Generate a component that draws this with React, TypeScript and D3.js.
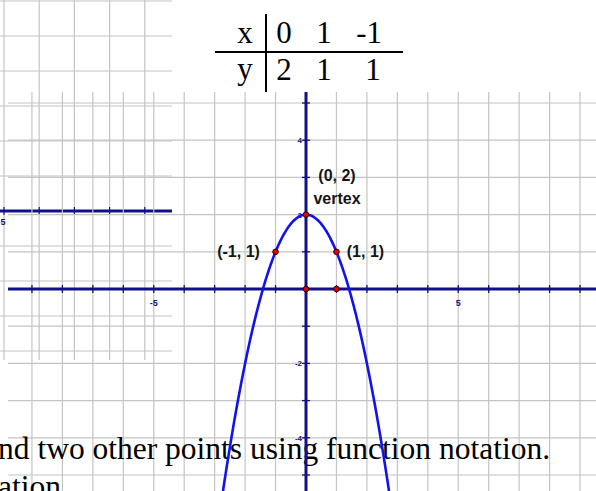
import React from "react";
import * as d3 from "d3";

// ---- data ----
const tableXs = [0, 1, -1];
const tableYs = [2, 1, 1];
const plottedPoints: [number, number][] = [[0, 2], [1, 1], [-1, 1], [0, 0], [1, 0]];
const pointLabels = [
  { text: "(0, 2)", x: 0, y: 2 },
  { text: "vertex", x: 0, y: 2 },
  { text: "(-1, 1)", x: -1, y: 1 },
  { text: "(1, 1)", x: 1, y: 1 },
];
const xTickLabels = [-5, 5];
const yTickLabels = [4, 2, -2, -4];
const mainGridX = d3.range(-9, 10);
const mainGridY = d3.range(-5, 6);
const oldGridX = d3.range(0, 5);
const oldGridY = d3.range(-4, 7);
const oldTickLabels = ["5"];
const sentence1 = "nd two other points using function notation.";
const sentence2 = "ation";

const f = (x: number) => -x * x + 2;

export default function App() {
  const W = 596, H = 491;
  const x = d3.scaleLinear().domain([0, 1]).range([306, 336.45]);
  const y = d3.scaleLinear().domain([0, 1]).range([289, 251.8]);
  // old background graph
  const ox = d3.scaleLinear().domain([0, 1]).range([4, 39.2]);
  const oy = d3.scaleLinear().domain([0, 1]).range([211, 176]);

  const gridTop = 92, gridLeft = 8;
  const navy = "#101088";
  const grid = "#c4c4c4";

  const xs = d3.range(-2.8, 2.8001, 0.02);
  const line = d3.line<number>().x((d) => x(d)).y((d) => y(f(d)));

  const labelOffsets: Record<string, [number, number]> = {
    "(0, 2)": [31, -34],
    "vertex": [31, -11],
    "(-1, 1)": [-37, 5],
    "(1, 1)": [29, 5],
  };

  return (
    <svg width={W} height={H} style={{ position: "absolute", left: 0, top: 0, background: "#fff" }}>
      <rect x={0} y={0} width={W} height={H} fill="#fff" />
      {/* old background graph */}
      <g>
        {oldGridX.map((i) => (
          <line key={"ox" + i} x1={ox(i)} x2={ox(i)} y1={0} y2={360} stroke={grid} strokeWidth={1.2} />
        ))}
        {oldGridY.map((j) => (
          <line key={"oy" + j} x1={0} x2={172} y1={oy(j)} y2={oy(j)} stroke={grid} strokeWidth={1.2} />
        ))}
        <line x1={0} x2={172} y1={oy(0)} y2={oy(0)} stroke={navy} strokeWidth={3} />
        {oldGridX.map((i) => (
          <line key={"ot" + i} x1={ox(i)} x2={ox(i)} y1={oy(0) - 4} y2={oy(0) + 4} stroke={navy} strokeWidth={1.2} />
        ))}
        {oldTickLabels.map((t) => (
          <text key={t} x={3} y={oy(0) + 14} fontFamily="Liberation Sans" fontWeight="bold" fontSize={9} fill={navy} textAnchor="middle">{t}</text>
        ))}
      </g>

      {/* main grid */}
      <g>
        {mainGridX.map((k) => (
          <line key={"gx" + k} x1={x(k)} x2={x(k)} y1={gridTop} y2={H} stroke={grid} strokeWidth={1.2} />
        ))}
        {mainGridY.map((k) => (
          <line key={"gy" + k} x1={gridLeft} x2={W} y1={y(k)} y2={y(k)} stroke={grid} strokeWidth={1.2} />
        ))}
      </g>

      {/* table */}
      <g fontFamily="Liberation Serif" fontSize={31} fill="#000">
        <line x1={215} x2={403} y1={52} y2={52} stroke="#000" strokeWidth={2} />
        <line x1={266} x2={266} y1={14} y2={92} stroke="#000" strokeWidth={2} />
        <text x={245} y={43} textAnchor="middle">x</text>
        <text x={245} y={79} textAnchor="middle">y</text>
        {tableXs.map((v, i) => (
          <text key={"tx" + i} x={[284, 324, 382][i]} y={43} textAnchor={i === 2 ? "end" : "middle"}>{String(v)}</text>
        ))}
        {tableYs.map((v, i) => (
          <text key={"ty" + i} x={[284, 324, 373][i]} y={80} textAnchor="middle">{String(v)}</text>
        ))}
      </g>

      {/* bottom sentence */}
      <g fontFamily="Liberation Serif" fontSize={31.5} fill="#000">
        <text x={-2} y={459}>{sentence1}</text>
        <text x={-2} y={497}>{sentence2}</text>
      </g>

      {/* axes */}
      <line x1={gridLeft} x2={W} y1={y(0)} y2={y(0)} stroke={navy} strokeWidth={3} />
      <line x1={x(0)} x2={x(0)} y1={gridTop} y2={H} stroke={navy} strokeWidth={3} />
      {mainGridX.filter((k) => k !== 0).map((k) => (
        <line key={"tx" + k} x1={x(k)} x2={x(k)} y1={y(0) - 4} y2={y(0) + 4} stroke={navy} strokeWidth={1.3} />
      ))}
      {mainGridY.filter((k) => k !== 0).map((k) => (
        <line key={"ty" + k} x1={x(0) - 4} x2={x(0) + 4} y1={y(k)} y2={y(k)} stroke={navy} strokeWidth={1.3} />
      ))}
      {xTickLabels.map((t) => (
        <text key={"xl" + t} x={x(t)} y={y(0) + 17} textAnchor="middle" fontFamily="Liberation Sans" fontWeight="bold" fontSize={9} fill={navy}>{String(t)}</text>
      ))}
      {yTickLabels.map((t) => (
        <text key={"yl" + t} x={x(0) - 4} y={y(t) + 3} textAnchor="end" fontFamily="Liberation Sans" fontWeight="bold" fontSize={8} fill={navy}>{String(t)}</text>
      ))}

      {/* parabola */}
      <path d={line(xs) || ""} fill="none" stroke="#1212ee" strokeWidth={2.6} />

      {/* points */}
      {plottedPoints.map(([px, py], i) => (
        <circle key={"p" + i} cx={x(px)} cy={y(py)} r={2.8} fill="#e00000" stroke="#300" strokeWidth={1} />
      ))}

      {/* labels */}
      {pointLabels.map((l) => {
        const [dx, dy] = labelOffsets[l.text];
        return (
          <text key={l.text} x={x(l.x) + dx} y={y(l.y) + dy} textAnchor="middle" fontFamily="Liberation Sans" fontWeight="bold" fontSize={16} fill="#151515">{l.text}</text>
        );
      })}
    </svg>
  );
}
